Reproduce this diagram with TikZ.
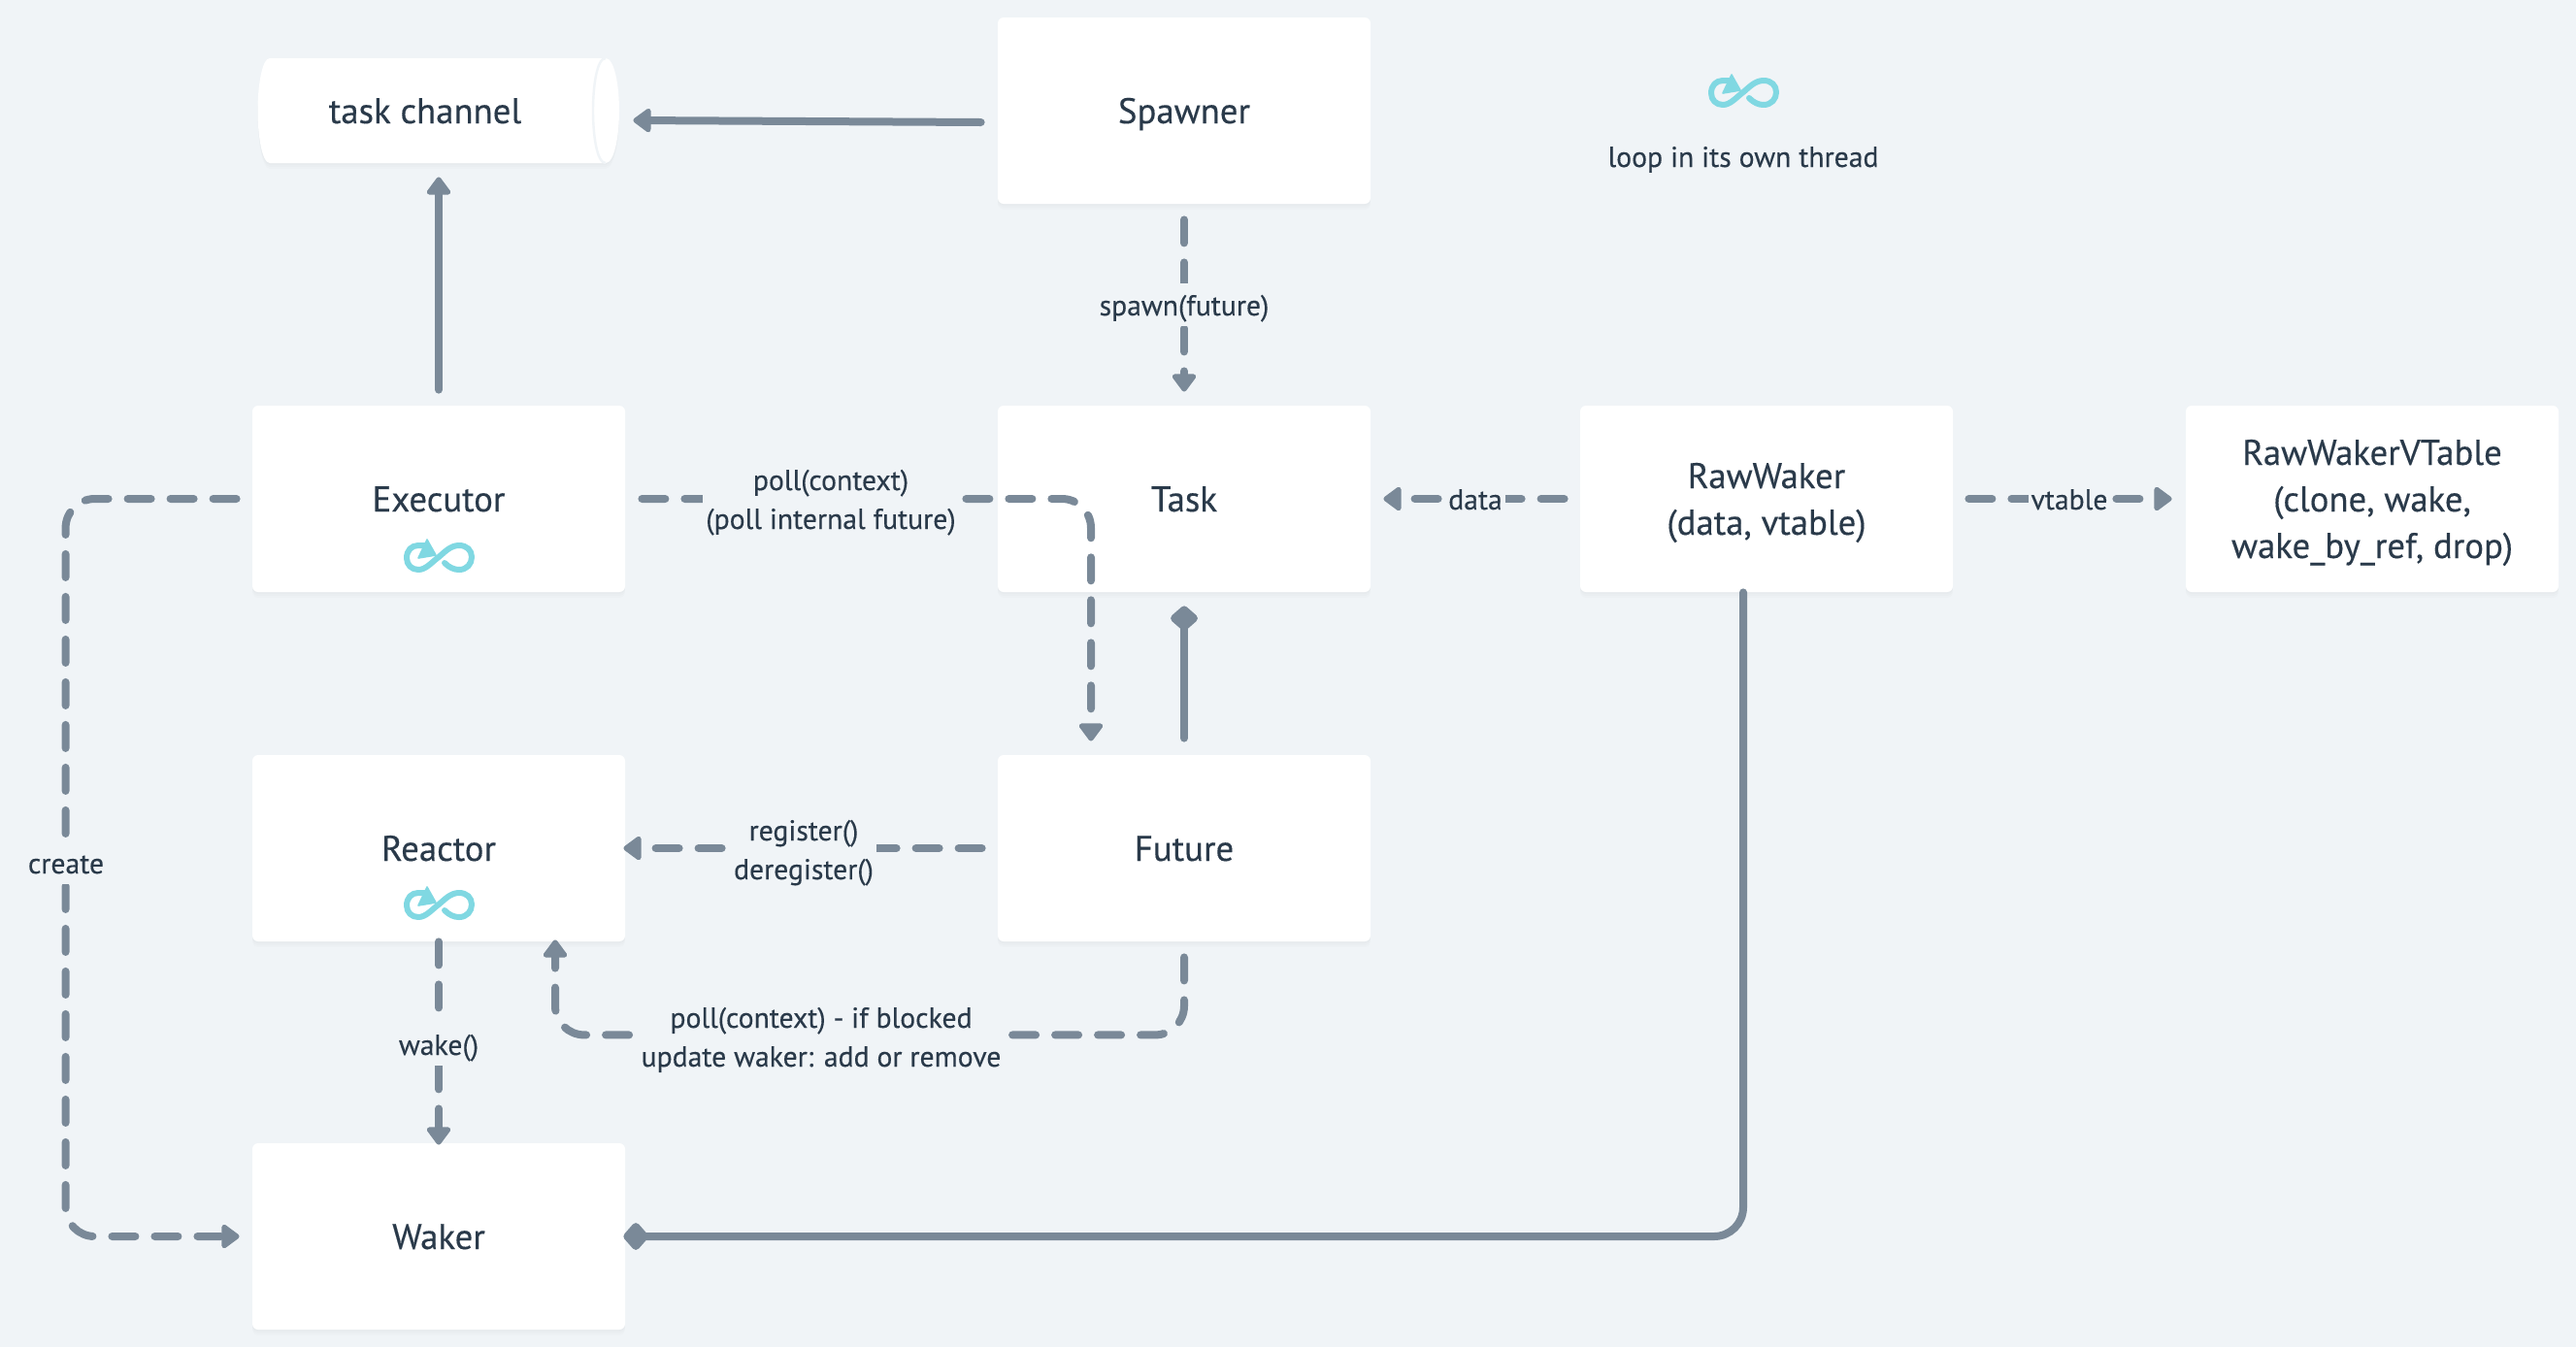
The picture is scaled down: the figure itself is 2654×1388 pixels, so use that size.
\documentclass[tikz,border=0pt]{standalone}
\usepackage{fontspec}
\setmainfont{PT Sans}[FakeBold=0.3]
\usetikzlibrary{arrows.meta,shadows,calc}
\definecolor{bgc}{HTML}{F0F4F7}
\definecolor{linec}{HTML}{7A8998}
\definecolor{textc}{HTML}{2A3A4A}
\definecolor{iconc}{HTML}{80D8E2}
\newcommand\ts{\rule[-5pt]{0pt}{23pt}}
\newcommand\ls{\rule[-4pt]{0pt}{19pt}}
\def\dd{on 12pt off 10pt }
\tikzset{
  softshadow/.style={
    general shadow={shadow xshift=0pt,shadow yshift=-3pt,fill=black,opacity=.012},
    general shadow={shadow xshift=0pt,shadow yshift=-2pt,fill=black,opacity=.012},
    general shadow={shadow xshift=0pt,shadow yshift=-1pt,fill=black,opacity=.012}},
  boxnode/.style={softshadow,fill=white,rounded corners=3pt,minimum width=192pt,minimum height=96pt,
    inner sep=0pt,align=center,text=textc,font=\fontsize{18.4}{24}\selectfont},
  chanbody/.style={minimum width=186pt,minimum height=54pt,inner sep=0pt,text=textc,font=\fontsize{18.4}{24}\selectfont},
  lbl/.style={fill=bgc,text=textc,align=center,inner sep=1.5pt,font=\fontsize{14.85}{20}\selectfont},
  legendtext/.style={text=textc,inner sep=0pt,font=\fontsize{14.85}{20}\selectfont},
  conn/.style={draw=linec,line width=4pt,line cap=round,rounded corners=15pt},
  dashconn/.style={conn,dash pattern=on 12pt off 10pt},
  tri/.style={-{Triangle[length=10pt,width=14pt,round]}},
  dia/.style={-{Diamond[length=14pt,width=16pt,round]}},
  pics/loopicon/.style={code={
    \draw[iconc,line width=3pt,line cap=round,line join=round]
      (6,6) .. controls (11,11) and (16,13) .. (21,13)
      .. controls (29,13) and (34,7) .. (34,0)
      .. controls (34,-7) and (29,-12) .. (21,-12)
      .. controls (12,-12) and (6,-5) .. (0,0)
      .. controls (-7,5) and (-13,13) .. (-21,13)
      .. controls (-28,13) and (-33,8) .. (-33,1)
      .. controls (-33,-7) and (-28,-12) .. (-21,-12)
      -- (-14,-12);
    \fill[iconc,draw=iconc,line width=.8pt,line join=round] (-12,-18) -- (-3,-2) -- (-21,1) -- cycle;
  }}
}
\begin{document}
\begin{tikzpicture}[x=.5pt,y=-.5pt]
\useasboundingbox (0,0) rectangle (2654,1388);
\fill[bgc] (0,0) rectangle (2654,1388);
% channel
\fill[white,softshadow] (278,60) -- (624,60) .. controls (633,60) and (638,88) .. (638,114)
  .. controls (638,140) and (633,168) .. (624,168) -- (278,168)
  .. controls (270,168) and (265.5,140) .. (265.5,114)
  .. controls (265.5,88) and (270,60) .. (278,60) -- cycle;
\draw[bgc,line width=1.2pt] (624,60) .. controls (615,60) and (611,88) .. (611,114)
  .. controls (611,140) and (615,168) .. (624,168);
\node[chanbody] (chan) at (452,114) {\ts task channel\hspace*{14pt}};
% boxes
\node[boxnode] (spawner) at (1220,114) {\ts Spawner};
\node[boxnode] (executor) at (452,514) {\ts Executor};
\node[boxnode] (task) at (1220,514) {\ts Task};
\node[boxnode] (raw) at (1820,514) {\ts RawWaker\\\ts (data, vtable)};
\node[boxnode] (vtable) at (2444,514) {\ts RawWakerVTable\\\ts (clone, wake,\\\ts wake\_by\_ref, drop)};
\node[boxnode] (reactor) at (452,874) {\ts Reactor};
\node[boxnode] (future) at (1220,874) {\ts Future};
\node[boxnode] (waker) at (452,1274) {\ts Waker};
% icons
\pic at (452,574) {loopicon};
\pic at (452,932) {loopicon};
\pic at (1796,95) {loopicon};
\node[legendtext] (legend) at (1796,161) {\ls loop in its own thread};
% solid connectors
\draw[conn,tri] ([shift={(-17,12)}]spawner.west) -- ([shift={(14,10)}]chan.east);
\draw[conn,tri] ([shift={(0,-16)}]executor.north) -- ([shift={(0,14)}]chan.south);
\draw[conn,dia] ([shift={(0,-17)}]future.north) -- ([shift={(0,14)}]task.south);
\draw[conn,dia] ([shift={(-24,0)}]raw.south) |- ([shift={(-2,0)}]waker.east);
% dashed connectors
\draw[dashconn,tri,dash pattern/.expanded={\dd on 12pt off 22pt \dd on 12pt off 60pt}] ([shift={(0,16)}]spawner.south) -- ([shift={(0,-14)}]task.north);
\node[lbl] (lspawn) at (1220,314) {\ls spawn(future)};
\draw[dashconn,tri,dash pattern/.expanded={\dd on 12pt off 133pt \dd\dd\dd\dd\dd\dd\dd\dd\dd on 12pt off 10pt}] ([shift={(17,0)}]executor.east) -| ([shift={(-96,-14)}]future.north);
\node[lbl] (lpoll) at (856,514) {\ls poll(context)\\\ls (poll internal future)};
\draw[dashconn,tri,dash pattern/.expanded={\dd on 12pt off 31pt on 12pt off 100pt}] ([shift={(-16,0)}]raw.west) -- ([shift={(13,0)}]task.east);
\node[lbl] (ldata) at (1520,514) {\ls data};
\draw[dashconn,tri,dash pattern/.expanded={\dd on 12pt off 42pt on 12pt off 100pt}] ([shift={(16,0)}]raw.east) -- ([shift={(-14,0)}]vtable.west);
\node[lbl] (lvt) at (2132,514) {\ls vtable};
\draw[dashconn,tri,dash pattern/.expanded={\dd\dd on 12pt off 78pt \dd\dd on 12pt off 100pt}] ([shift={(-16,0)}]future.west) -- ([shift={(-2,0)}]reactor.east);
\node[lbl] (lreg) at (828,875) {\ls register()\\\ls deregister()};
\draw[dashconn,tri,dash pattern/.expanded={\dd\dd\dd\dd\dd\dd\dd\dd\dd\dd\dd\dd on 12pt off 5pt \dd\dd\dd\dd\dd\dd\dd\dd\dd\dd\dd\dd\dd on 12pt off 10pt}] ([shift={(-16,0)}]executor.west) -- ++(-176,0) |- ([shift={(-13,0)}]waker.west);
\node[lbl] (lcreate) at (68,889) {\ls create};
\draw[dashconn,tri,dash pattern/.expanded={\dd on 12pt off 30pt \dd on 12pt off 60pt}] (reactor.south) -- ([shift={(0,2)}]waker.north);
\node[lbl] (lwake) at (452,1076) {\ls wake()};
\draw[dashconn,tri,dash pattern/.expanded={\dd\dd\dd\dd\dd on 12pt off 197.5pt \dd\dd\dd\dd on 12pt off 10pt}] ([shift={(0,16)}]future.south) -- ++(0,80) -| ([shift={(120,-2)}]reactor.south);
\node[lbl] (lpoll2) at (846,1068) {\ls poll(context) - if blocked\\\ls update waker: add or remove};
\end{tikzpicture}
\end{document}
